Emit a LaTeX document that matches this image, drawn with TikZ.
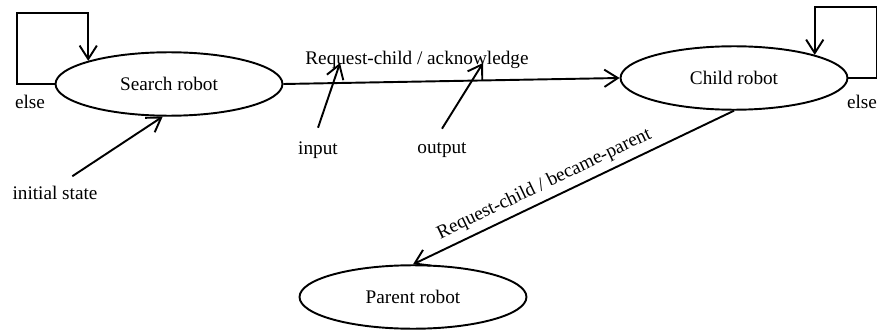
\documentclass[tikz,border=0pt]{standalone}
\usepackage{fontspec}
\setmainfont{Liberation Serif}
\usetikzlibrary{arrows.meta,shapes.geometric,positioning}
\tikzset{
  robot/.style={draw, ellipse, line width=1pt, minimum width=118pt,
    minimum height=33pt, inner sep=0pt, font=\fontsize{10}{12}\selectfont},
  arr/.style={line width=1pt, -{Straight Barb[length=7pt,width=9pt]}},
  lbl/.style={inner sep=1pt, font=\fontsize{10}{12}\selectfont},
}
\begin{document}
\begin{tikzpicture}[x=0.52pt, y=0.52pt]
\useasboundingbox (0,0) rectangle (877,331);
\def\lh{71}      % height of the self loops
%% States
\node[robot] (search) at (169,247) {Search robot};
\node[robot] (child)  at (734,253) {Child robot};
\node[robot] (parent) at (413,34)  {Parent robot};
%% Self loops
\draw[arr] (search.west) -- ++(-38,0) -- ++(0,\lh) -| (search.164);
\node[lbl] (selse) at (30,229) {else};
\draw[arr] (child.east) -- ++(29,0) -- ++(0,\lh) -| (child.16);
\node[lbl] (celse) at (862,229) {else};
%% Transitions
\draw[arr] (search.east) -- (child.west);
\node[lbl] (ack) at (417,271) {Request-child / acknowledge};
\draw[arr] (child.south) -- (parent.north)
  node[pos=0.57, sloped, above=2pt, lbl] {Request-child / became-parent};
%% Pointers to the parts of the label
\node[lbl] (input)  at (318,181) {input};
\node[lbl] (output) at (442,181) {output};
\coordinate (intip)  at (340,268);
\coordinate (outtip) at (483,268);
\draw[arr] ([yshift=6pt]input.north) -- (intip);
\draw[arr] ([yshift=6pt]output.north) -- (outtip);
%% Initial state
\node[lbl] (init) at (55,138) {initial state};
\draw[arr] ([xshift=9pt,yshift=4pt]init.north) -- (search.259);
\end{tikzpicture}
\end{document}
